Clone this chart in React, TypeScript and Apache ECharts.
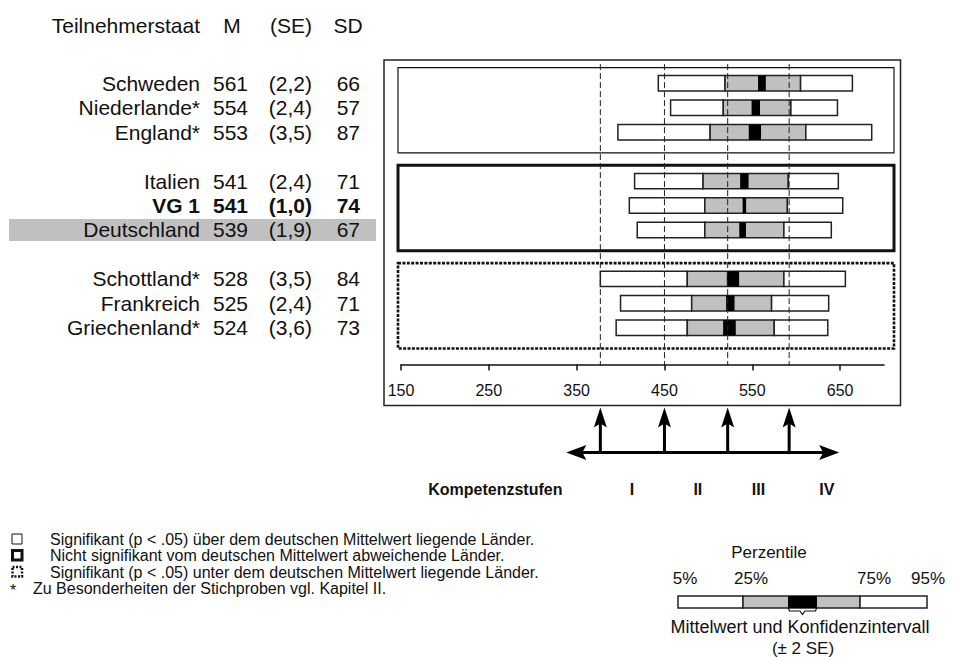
import React, { useEffect, useRef } from "react";
import * as echarts from "echarts";

const FONT = '"Liberation Sans", Arial, Helvetica, sans-serif';

// ---- data ----
const countries = ["Schweden", "Niederlande*", "England*", "Italien", "VG 1", "Deutschland", "Schottland*", "Frankreich", "Griechenland*"];
const meanM = [561, 554, 553, 541, 541, 539, 528, 525, 524];
const seVals = [2.2, 2.4, 3.5, 2.4, 1.0, 1.9, 3.5, 2.4, 3.6];
const sdVals = [66, 57, 87, 71, 74, 67, 84, 71, 73];
const p5 = [443, 457, 397, 416, 410, 419, 377, 400, 395];
const p25 = [519, 517, 502, 494, 496, 496, 476, 481, 476];
const p75 = [605, 594, 611, 591, 590, 586, 586, 572, 575];
const p95 = [664, 647, 686, 648, 653, 640, 656, 637, 636];
// slot -> country index (-1 = blank row)
const rowOrder = [0, 1, 2, -1, 3, 4, 5, -1, 6, 7, 8, -1];
const boldCountry = 4;
const highlightCountry = 5;
// groups: first slot, last slot, style (0 thin, 1 thick, 2 dotted)
const groupFirst = [0, 4, 8];
const groupLast = [2, 6, 10];
const groupKind = [0, 1, 2];
const levelCuts = [377, 450, 522, 592];
const levelNames = ["I", "II", "III", "IV"];
const levelLabelAt = [413, 488, 557, 635];
const xTicks = [150, 250, 350, 450, 550, 650];
const xMin = 150;
const xMax = 700;

const fmtSE = (v: number) => "(" + v.toFixed(1).replace(".", ",") + ")";

function buildOption() {
  const slotOf = (c: number) => rowOrder.indexOf(c);
  const yData = rowOrder.map((c, i) => {
    if (c < 0) return { value: "gap" + i };
    if (c === highlightCountry) return { value: countries[c], textStyle: { backgroundColor: "#c0c0c0" } };
    return { value: countries[c] };
  });

  const tok = (bold: boolean, w: number) => ({
    width: w,
    align: "right",
    fontSize: 21,
    fontFamily: FONT,
    fontWeight: bold ? "bold" : "normal",
    color: "#111",
    lineHeight: 18,
  });

  const barData = countries.map((_, i) => [
    slotOf(i),
    p5[i],
    p25[i],
    meanM[i] - 2 * seVals[i],
    meanM[i] + 2 * seVals[i],
    p75[i],
    p95[i],
  ]);

  const groupData = groupFirst.map((f, i) => [xMin, f, groupLast[i], groupKind[i]]);

  const txt = (text: string, x: number, y: number, font: string, align = "left") => ({
    type: "text",
    style: {
      text,
      x,
      y,
      font,
      fill: "#111",
      textAlign: align,
      align,
      textVerticalAlign: "middle",
      verticalAlign: "middle",
    },
  });

  const f21 = "21px " + FONT;
  const f16 = "16px " + FONT;
  const f17 = "17px " + FONT;

  const graphic: any[] = [
    { type: "rect", shape: { x: 384, y: 60, width: 516.5, height: 345.5 }, style: { fill: "none", stroke: "#222", lineWidth: 1.5 } },
    txt("Teilnehmerstaat", 200, 25, f21, "right"),
    txt("M", 232, 25, f21, "center"),
    txt("(SE)", 291, 25, f21, "center"),
    txt("SD", 348, 25, f21, "center"),
    // significance legend
    { type: "rect", shape: { x: 12, y: 534, width: 10, height: 10 }, style: { fill: "#fff", stroke: "#111", lineWidth: 1 } },
    { type: "rect", shape: { x: 12.5, y: 550.5, width: 9.5, height: 9.5 }, style: { fill: "#fff", stroke: "#111", lineWidth: 3 } },
    { type: "rect", shape: { x: 12.5, y: 567, width: 9.5, height: 9.5 }, style: { fill: "#fff", stroke: "#111", lineWidth: 2.5, lineDash: [2, 1.5] } },
    txt("Signifikant (p < .05) über dem deutschen Mittelwert liegende Länder.", 50, 539, f16),
    txt("Nicht signifikant vom deutschen Mittelwert abweichende Länder.", 50, 555.5, f16),
    txt("Signifikant (p < .05) unter dem deutschen Mittelwert liegende Länder.", 50, 572, f16),
    txt("*", 10, 590, f16),
    txt("Zu Besonderheiten der Stichproben vgl. Kapitel II.", 33, 588.5, f16),
    // percentile legend
    txt("Perzentile", 769, 552, f17, "center"),
    txt("5%", 685, 578, f17, "center"),
    txt("25%", 751, 578, f17, "center"),
    txt("75%", 874, 578, f17, "center"),
    txt("95%", 928, 578, f17, "center"),
    { type: "rect", shape: { x: 678, y: 596, width: 65, height: 12 }, style: { fill: "#fff", stroke: "#222", lineWidth: 1.5 } },
    { type: "rect", shape: { x: 743, y: 596, width: 117, height: 12 }, style: { fill: "#c0c0c0", stroke: "#222", lineWidth: 1.5 } },
    { type: "rect", shape: { x: 860, y: 596, width: 67, height: 12 }, style: { fill: "#fff", stroke: "#222", lineWidth: 1.5 } },
    { type: "rect", shape: { x: 788, y: 596, width: 29, height: 12 }, style: { fill: "#000" } },
    {
      type: "polyline",
      shape: { points: [[788, 607], [789.5, 611], [800, 611], [802.5, 614.5], [805, 611], [815.5, 611], [817, 607]] },
      style: { stroke: "#111", lineWidth: 1.2, fill: "none" },
    },
    txt("Mittelwert und Konfidenzintervall", 800, 627, "18px " + FONT, "center"),
    txt("(± 2 SE)", 803, 648, f17, "center"),
  ];

  return {
    animation: false,
    backgroundColor: "#fff",
    grid: { left: 401, right: 70, top: 71.1, bottom: 292.6, containLabel: false },
    xAxis: {
      type: "value",
      min: xMin,
      max: xMax,
      splitLine: { show: false },
      axisLine: { show: true, lineStyle: { color: "#111", width: 1.5 } },
      axisTick: { show: true, length: 6, lineStyle: { color: "#111", width: 1.5 }, customValues: xTicks },
      axisLabel: { customValues: xTicks, fontSize: 16, fontFamily: FONT, color: "#111", margin: 18 },
    },
    yAxis: {
      type: "category",
      inverse: true,
      data: yData,
      axisLine: { show: false },
      axisTick: { show: false },
      splitLine: { show: false },
      axisLabel: {
        interval: 0,
        margin: 25,
        padding: [2, 16, 2, 1],
        formatter: (_v: string, index: number) => {
          const c = rowOrder[index];
          if (c < 0) return "";
          const b = c === boldCountry ? "b" : "";
          return `{n${b}|${countries[c]}}{m${b}|${meanM[c]}}{s${b}|${fmtSE(seVals[c])}}{d${b}|${sdVals[c]}}`;
        },
        rich: {
          n: tok(false, 190),
          m: tok(false, 48),
          s: tok(false, 64),
          d: tok(false, 48),
          nb: tok(true, 190),
          mb: tok(true, 48),
          sb: tok(true, 64),
          db: tok(true, 48),
        },
      },
    },
    graphic,
    series: [
      {
        type: "custom",
        name: "groups",
        z: 1,
        encode: { x: 0, y: [1, 2] },
        data: groupData,
        renderItem: (_p: any, api: any) => {
          const band = api.size([0, 1])[1];
          const top = api.coord([xMin, api.value(1)])[1] - band / 2 - 3.5;
          const bottom = api.coord([xMin, api.value(2)])[1] + band / 2 + 8.5;
          const left = api.coord([xMin, 0])[0] - 3;
          const right = api.coord([xMax, 0])[0] + 10;
          const kind = api.value(3);
          const style: any = { fill: "none", stroke: "#111", lineWidth: kind === 0 ? 1.2 : 3 };
          if (kind === 2) {
            style.lineWidth = 2.6;
            style.lineDash = [3, 1.4];
          }
          return { type: "rect", shape: { x: left, y: top, width: right - left, height: bottom - top }, style };
        },
      },
      {
        type: "custom",
        name: "percentiles",
        z: 2,
        encode: { y: 0, x: [1, 2, 3, 4, 5, 6] },
        data: barData,
        renderItem: (_p: any, api: any) => {
          const slot = api.value(0);
          const X = (k: number) => api.coord([api.value(k), slot])[0];
          const yc = api.coord([api.value(1), slot])[1];
          const h = api.size([0, 1])[1] * 0.63;
          const top = yc - h / 2;
          const stroke = "#222";
          const r = (x1: number, x2: number, fill: string, withStroke: boolean) => ({
            type: "rect",
            shape: { x: x1, y: top, width: x2 - x1, height: h },
            style: withStroke ? { fill, stroke, lineWidth: 1.5 } : { fill },
          });
          return {
            type: "group",
            children: [
              r(X(1), X(2), "#fff", true),
              r(X(2), X(5), "#c0c0c0", true),
              r(X(5), X(6), "#fff", true),
              r(X(3), X(4), "#000", false),
            ],
          };
        },
      },
      {
        type: "custom",
        name: "levels",
        z: 3,
        encode: { x: 0, y: 1 },
        data: levelCuts.map((v) => [v, 0]),
        renderItem: (p: any, api: any) => {
          const i = p.dataIndex;
          const v = api.value(0);
          const [x, c0] = api.coord([v, 0]);
          const band = api.size([0, 1])[1];
          const gridTop = c0 - band / 2;
          const axisY = api.coord([v, rowOrder.length - 1])[1] + band / 2;
          const tip = axisY + 43;
          const hy = axisY + 88;
          const lx = api.coord([levelLabelAt[i], 0])[0];
          const children: any[] = [
            { type: "line", shape: { x1: x, y1: gridTop - 7, x2: x, y2: axisY + 1.5 }, style: { stroke: "#222", lineWidth: 1, lineDash: [6, 3] } },
            { type: "line", shape: { x1: x, y1: tip + 12, x2: x, y2: hy }, style: { stroke: "#000", lineWidth: 3 } },
            { type: "polygon", shape: { points: [[x, tip], [x + 6.5, tip + 20], [x, tip + 16], [x - 6.5, tip + 20]] }, style: { fill: "#000" } },
            {
              type: "text",
              style: { text: levelNames[i], x: lx, y: axisY + 125, font: "bold 16px " + FONT, fill: "#111", textAlign: "center", align: "center", textVerticalAlign: "middle", verticalAlign: "middle" },
            },
          ];
          if (i === 0) {
            const x0 = x - 34;
            const x1 = api.coord([levelCuts[levelCuts.length - 1], 0])[0] + 50;
            children.push(
              { type: "line", shape: { x1: x0 + 12, y1: hy, x2: x1 - 12, y2: hy }, style: { stroke: "#000", lineWidth: 3 } },
              { type: "polygon", shape: { points: [[x0, hy], [x0 + 20, hy - 7.5], [x0 + 16, hy], [x0 + 20, hy + 7.5]] }, style: { fill: "#000" } },
              { type: "polygon", shape: { points: [[x1, hy], [x1 - 20, hy - 7.5], [x1 - 16, hy], [x1 - 20, hy + 7.5]] }, style: { fill: "#000" } },
              {
                type: "text",
                style: { text: "Kompetenzstufen", x: x - 105, y: axisY + 125, font: "bold 16px " + FONT, fill: "#111", textAlign: "center", align: "center", textVerticalAlign: "middle", verticalAlign: "middle" },
              }
            );
          }
          return { type: "group", children };
        },
      },
    ],
  };
}

export default function App() {
  const ref = useRef<HTMLDivElement>(null);
  useEffect(() => {
    if (!ref.current) return;
    const chart = echarts.init(ref.current, null, { renderer: "svg" });
    chart.setOption(buildOption() as any);
    return () => chart.dispose();
  }, []);
  return (
    <div
      ref={ref}
      style={{ position: "fixed", left: 0, top: 0, width: 954, height: 657, background: "#fff" }}
    />
  );
}
